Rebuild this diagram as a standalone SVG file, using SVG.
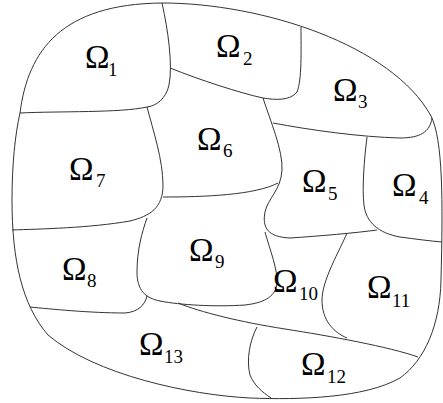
<svg xmlns="http://www.w3.org/2000/svg" width="443" height="403" viewBox="0 0 443 403">
<style>
.b{fill:none;stroke:#333;stroke-width:1}
.om{font-family:"Liberation Serif","Times New Roman",serif;font-size:33px;fill:#000}
.sb{font-family:"Liberation Serif","Times New Roman",serif;font-size:19px;fill:#000}
</style>
<rect width="443" height="403" fill="#fff"/>
<g id="boundaries">
<path class="b" d="M162 3 C262 3 392 45 431 116 C443 140 443 200 441 280 C440 325 425 360 400 378 C365 398 300 400 250 398 C190 395 95 375 48 335 C22 305 12 260 12 200 C12 165 15 135 20 113 C28 50 62 4 162 3 Z"/>
<path class="b" d="M162 3 C168 30 173 65 169 85 C166 99 156 106 147 107"/>
<path class="b" d="M20 113 C60 111 120 113 147 107"/>
<path class="b" d="M147 107 C153 130 163 160 163 185 C163 208 150 216 130 221 C90 228 40 229 12 230"/>
<path class="b" d="M170 68 C200 80 240 93 263 98 C275 100 290 101 297 92 C302 80 301 50 301 27"/>
<path class="b" d="M263 98 C270 120 283 150 282 170 C281 190 268 198 265 212 C262 228 268 237 290 238 C320 236 355 233 377 230"/>
<path class="b" d="M163 197 C205 197 255 195 278 183"/>
<path class="b" d="M273 123 C310 130 360 137 400 138 C420 138 430 132 432 118"/>
<path class="b" d="M367 137 C364 160 362 190 364 205 C366 222 378 233 400 237 C415 239 430 241 442 242"/>
<path class="b" d="M265 232 C270 250 278 270 277 284 C275 298 262 303 245 305 C215 307 180 305 160 301 C145 298 137 290 137 272 C137 250 142 232 147 218"/>
<path class="b" d="M147 296 C145 305 138 312 125 313 C90 313 50 309 30 307"/>
<path class="b" d="M178 303 C200 312 240 322 285 329 C330 336 390 347 418 357"/>
<path class="b" d="M347 233 C340 250 322 280 322 300 C322 320 333 332 347 338"/>
<path class="b" d="M257 327 C250 340 246 360 250 375 C254 385 262 392 271 398"/>
</g>
<g id="labels">
<g id="omega1"><text class="om" x="85" y="68">Ω</text><text class="sb" x="108" y="76">1</text></g>
<g id="omega2"><text class="om" x="216" y="57">Ω</text><text class="sb" x="243" y="65">2</text></g>
<g id="omega3"><text class="om" x="333" y="101">Ω</text><text class="sb" x="358" y="108">3</text></g>
<g id="omega4"><text class="om" x="392" y="196">Ω</text><text class="sb" x="419" y="204">4</text></g>
<g id="omega5"><text class="om" x="302" y="192">Ω</text><text class="sb" x="328" y="200">5</text></g>
<g id="omega6"><text class="om" x="197" y="150">Ω</text><text class="sb" x="223" y="157">6</text></g>
<g id="omega7"><text class="om" x="69" y="180">Ω</text><text class="sb" x="96" y="187">7</text></g>
<g id="omega8"><text class="om" x="62" y="280">Ω</text><text class="sb" x="87" y="287">8</text></g>
<g id="omega9"><text class="om" x="189" y="261">Ω</text><text class="sb" x="215" y="268">9</text></g>
<g id="omega10"><text class="om" x="273" y="292">Ω</text><text class="sb" x="299" y="300">10</text></g>
<g id="omega11"><text class="om" x="367" y="298">Ω</text><text class="sb" x="392" y="307">11</text></g>
<g id="omega12"><text class="om" x="301" y="375">Ω</text><text class="sb" x="327" y="383">12</text></g>
<g id="omega13"><text class="om" x="139" y="355">Ω</text><text class="sb" x="164" y="363">13</text></g>
</g>
</svg>
